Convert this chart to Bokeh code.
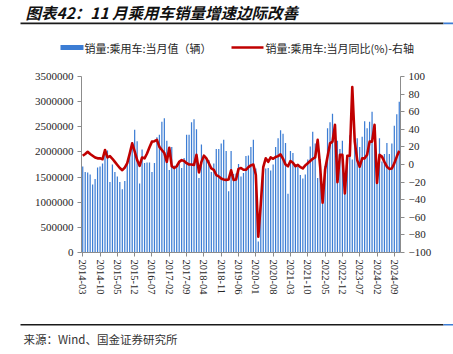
import numpy as np
import pandas as pd
from bokeh.plotting import figure
from bokeh.layouts import column
from bokeh.models import (Range1d, LinearAxis, FixedTicker, ColumnDataSource, NumeralTickFormatter)
from bokeh.core.properties import value
from bokeh.embed import file_html
from bokeh.resources import INLINE

# ---------------- data ----------------
months = [str(p) for p in pd.period_range("2014-03", "2024-11", freq="M")]

sales_2014 = [1710000, 1600000, 1590000, 1550000, 1350000, 1460000, 1690000, 1710000, 1770000, 2050000]
sales_2015 = [2030000, 1400000, 1750000, 1600000, 1510000, 1400000, 1260000, 1420000, 1760000, 2020000, 2190000, 2440000]
sales_2016 = [2210000, 1370000, 2050000, 1780000, 1790000, 1790000, 1600000, 1780000, 2290000, 2340000, 2600000, 2670000]
sales_2017 = [2220000, 1640000, 2100000, 1730000, 1710000, 1800000, 1680000, 1880000, 2340000, 2340000, 2590000, 2650000]
sales_2018 = [2450000, 1480000, 2150000, 1870000, 1880000, 1840000, 1600000, 1770000, 2060000, 2060000, 2170000, 2240000]
sales_2019 = [2020000, 1220000, 2020000, 1560000, 1570000, 1760000, 1510000, 1580000, 1920000, 1930000, 2100000, 2240000]
sales_2020 = [1670000, 220000, 1050000, 1540000, 1670000, 1680000, 1630000, 1750000, 2100000, 2270000, 2430000, 2360000]
sales_2021 = [2180000, 1170000, 2020000, 1980000, 1750000, 1700000, 1540000, 1470000, 1550000, 1850000, 2110000, 2400000]
sales_2022 = [2170000, 1480000, 1860000, 970000, 1720000, 2470000, 2590000, 2760000, 2350000, 2220000, 2060000, 2220000]
sales_2023 = [1470000, 1750000, 2330000, 1850000, 2170000, 2270000, 2100000, 2300000, 2610000, 2470000, 2600000, 2800000]
sales_2024 = [2190000, 1400000, 2270000, 1810000, 1960000, 2180000, 1960000, 2170000, 2520000, 2750000, 3000000]

yoy_2014 = [10, 12, 14.5, 12, 10, 8, 7, 7, 6, 16.5]
yoy_2015 = [8, 9.5, 6.5, 3, -0.5, -4, -6.5, -3.5, 1.5, 12.5, 24, 15]
yoy_2016 = [5, -1.5, 8, 7, 12.5, 19.5, 26, 26.5, 28, 20, 16.5, 13]
yoy_2017 = [3, 19, -2, -4, -2, 3, 5, 4, 1.5, 0, 0, -0.5]
yoy_2018 = [11, -9, 3, 10, 7, 1.5, -4.5, -6, -12, -13.5, -16, -17]
yoy_2019 = [-17.5, -17, -6.5, -17.5, -17, -5, -4, -6, -6, -3, -1, 0]
yoy_2020 = [-12, -82, -45, -3, 7, 3, 8, 6.5, 8.5, 9.5, 11.5, 6.5]
yoy_2021 = [0, -2, 4, 2, -2, -0.5, -3, -4.5, -1, 1.5, 4, 6.5]
yoy_2022 = [8, 28, -2, -43.5, -6, 9, 24, 26, 45, -20, 11, 11]
yoy_2023 = [-33, 10, 10, 88, 26, 5, -2.5, 7, 7, 11, 26, 26]
yoy_2024 = [45, -21, 11, 9, 3, -2.5, -5, -4.5, 1.3, 9, 15.5]

tick_labels = ["2014-03", "2014-10", "2015-05", "2015-12", "2016-07", "2017-02", "2017-09",
               "2018-04", "2018-11", "2019-06", "2020-01", "2020-08", "2021-03", "2021-10",
               "2022-05", "2022-12", "2023-07", "2024-02", "2024-09"]
left_ticks = [0, 500000, 1000000, 1500000, 2000000, 2500000, 3000000, 3500000]
right_ticks = [-100, -80, -60, -40, -20, 0, 20, 40, 60, 80, 100]

sales = (sales_2014 + sales_2015 + sales_2016 + sales_2017 + sales_2018 + sales_2019 +
         sales_2020 + sales_2021 + sales_2022 + sales_2023 + sales_2024)
yoy = (yoy_2014 + yoy_2015 + yoy_2016 + yoy_2017 + yoy_2018 + yoy_2019 +
       yoy_2020 + yoy_2021 + yoy_2022 + yoy_2023 + yoy_2024)

title_text = "图表42：11 月乘用车销量增速边际改善"
source_text = "来源：Wind、国金证券研究所"
bar_label = "销量:乘用车:当月值（辆）"
line_label = "销量:乘用车:当月同比(%)-右轴"

BAR_COLOR = "#3C7DD4"
LINE_COLOR = "#C00000"
CJK = value("Noto Sans CJK SC")
W = 453


def blank_fig(h):
    f = figure(width=W, height=h, output_backend="svg", toolbar_location=None,
               x_range=Range1d(0, W), y_range=Range1d(0, h),
               x_axis_location=None, y_axis_location=None,
               min_border=0, min_border_left=0, min_border_right=0,
               min_border_top=0, min_border_bottom=0)
    f.xgrid.visible = False
    f.ygrid.visible = False
    f.outline_line_color = None
    f.background_fill_color = "white"
    f.border_fill_color = "white"
    f.frame_align = False
    return f


# ---------------- header: title, rule, legend ----------------
HH = 60
head = blank_fig(HH)
hy = lambda y: HH - y   # canvas y (from top) -> data y
head.text(x=[25], y=[hy(11.2)], text=[title_text], text_font=CJK, text_font_style="bold italic",
          text_font_size="15.5px", text_color="#111111", text_baseline="middle", text_align="left")
head.quad(left=[20], right=[443], top=[hy(22)], bottom=[hy(23.8)], fill_color="#1a1a1a", line_color=None)
head.quad(left=[443], right=[453], top=[hy(22)], bottom=[hy(23.8)], fill_color=BAR_COLOR, line_color=None)
# legend keys and labels
head.quad(left=[60], right=[83], top=[hy(44.5)], bottom=[hy(49.5)], fill_color=BAR_COLOR, line_color=None)
head.text(x=[84], y=[hy(47)], text=[bar_label], text_font=CJK, text_font_size="11px",
          text_color="#262626", text_baseline="middle", text_align="left")
head.segment(x0=[231], x1=[263], y0=[hy(47)], y1=[hy(47)], line_color=LINE_COLOR, line_width=2.6)
head.text(x=[265], y=[hy(47)], text=[line_label], text_font=CJK, text_font_size="11px",
          text_color="#262626", text_baseline="middle", text_align="left")

# ---------------- main chart ----------------
n = len(months)
src = ColumnDataSource(dict(x=list(range(n)), month=months, sales=sales, yoy=yoy))

MH = 258
p = figure(width=W, height=MH, output_backend="svg", toolbar_location=None,
           x_range=Range1d(-0.5, n - 0.5), y_range=Range1d(0, 3500000),
           min_border_left=81, min_border_right=53, min_border_top=16, min_border_bottom=66)
p.frame_align = False
p.extra_y_ranges = {"yoy": Range1d(-100, 100)}
p.xgrid.visible = False
p.ygrid.visible = False
p.outline_line_color = None
p.background_fill_color = "white"
p.border_fill_color = "white"

p.vbar(x="x", top="sales", width=0.5, source=src, fill_color=BAR_COLOR, line_color=None)
p.line(x="x", y="yoy", source=src, y_range_name="yoy",
       line_color=LINE_COLOR, line_width=2.6, line_join="round")

right = LinearAxis(y_range_name="yoy")
p.add_layout(right, "right")

axis_color = "#8c8c8c"
for ax in [p.xaxis[0], p.yaxis[0], right]:
    ax.axis_line_color = axis_color
    ax.major_tick_line_color = axis_color
    ax.major_tick_out = 4
    ax.major_tick_in = 0
    ax.minor_tick_out = 0
    ax.minor_tick_in = 0
    ax.major_label_text_font = "Liberation Serif"
    ax.major_label_text_font_size = "11px"
    ax.major_label_text_color = "#262626"
    ax.major_label_standoff = 4

p.yaxis[0].ticker = FixedTicker(ticks=left_ticks)
p.yaxis[0].formatter = NumeralTickFormatter(format="0")
right.ticker = FixedTicker(ticks=right_ticks)

tick_pos = [months.index(t) for t in tick_labels]
p.xaxis[0].ticker = FixedTicker(ticks=tick_pos)
p.xaxis[0].major_label_overrides = {pos: lab for pos, lab in zip(tick_pos, tick_labels)}
p.xaxis[0].major_label_orientation = -np.pi / 2
p.xaxis[0].major_label_text_font_size = "10.5px"
p.xaxis[0].major_label_standoff = 3

# ---------------- footer: rule and source ----------------
FH = 354 - HH - MH
foot = blank_fig(FH)
fy = lambda y: FH - y
foot.quad(left=[20], right=[443], top=[fy(5.6)], bottom=[fy(7)], fill_color="#1a1a1a", line_color=None)
foot.quad(left=[443], right=[453], top=[fy(5.6)], bottom=[fy(7)], fill_color=BAR_COLOR, line_color=None)
foot.text(x=[23], y=[fy(20)], text=[source_text], text_font=CJK, text_font_size="11.5px",
          text_color="#333333", text_baseline="middle", text_align="left")

layout = column(head, p, foot, spacing=0)
open("out.html", "w").write(file_html(layout, INLINE))
